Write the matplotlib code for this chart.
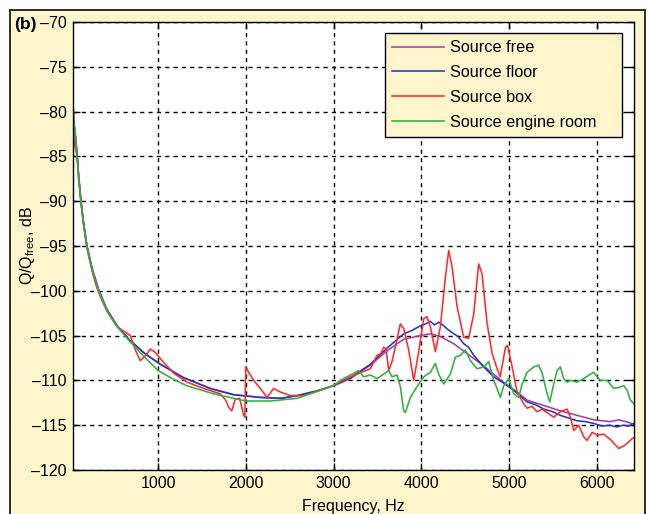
import numpy as np
import matplotlib
matplotlib.use("Agg")
import matplotlib.pyplot as plt
from matplotlib.patches import Rectangle

plt.rcParams['font.family'] = ['Liberation Sans', 'DejaVu Sans']

# --- donnees (Hz, dB) ---
f_free = [25, 32, 40, 57, 77, 95, 122, 152, 190, 248, 323, 418, 533, 665, 836, 1026,
          1292, 1596, 1862, 2166, 2400, 2585, 2800, 3000, 3192, 3420, 3610, 3800, 3990,
          4104, 4218, 4370, 4522, 4674, 4826, 4960, 5093, 5206, 5396, 5586, 5776, 5966,
          6150, 6250, 6330, 6425]
v_free = [-74.2, -79.5, -81.2, -82.6, -84.7, -87.2, -90.0, -92.5, -95.0, -97.5, -99.9,
          -102.1, -103.9, -105.4, -106.9, -108.2, -109.7, -110.9, -111.6, -111.9, -112.0,
          -111.7, -111.2, -110.6, -109.8, -108.3, -106.7, -105.4, -105.0, -104.8, -105.1,
          -105.9, -107.0, -108.1, -109.3, -110.4, -111.3, -112.2, -112.8, -113.4, -113.9,
          -114.4, -114.6, -114.4, -114.6, -114.9]

f_floor = [25, 38, 57, 77, 95, 122, 152, 190, 248, 323, 418, 533, 665, 836, 1026, 1292,
           1596, 1862, 2166, 2400, 2585, 2800, 3000, 3192, 3420, 3610, 3800, 3900, 3990,
           4050, 4100, 4150, 4200, 4256, 4300, 4370, 4420, 4484, 4540, 4598, 4712, 4826,
           4940, 5054, 5206, 5300, 5396, 5500, 5586, 5680, 5776, 5870, 5966, 6060, 6150,
           6230, 6300, 6360, 6425]
v_floor = [-79.0, -81.0, -82.6, -84.7, -87.2, -90.0, -92.5, -95.0, -97.5, -99.9, -102.1,
           -103.9, -105.4, -106.9, -108.2, -109.7, -110.9, -111.6, -111.9, -112.0, -111.7,
           -111.2, -110.6, -109.7, -108.2, -106.4, -104.8, -104.4, -103.9, -103.7, -103.4,
           -103.8, -103.5, -103.9, -104.3, -104.8, -105.1, -105.9, -106.3, -107.2, -108.5,
           -109.6, -110.3, -111.1, -112.4, -112.7, -113.2, -113.5, -113.9, -114.2, -114.5,
           -114.6, -114.8, -115.1, -115.0, -115.2, -115.0, -115.1, -114.8]

f_box = [25, 35, 50, 77, 95, 122, 152, 190, 248, 300, 340, 418, 533, 684, 741, 798,
         860, 912, 960, 1064, 1180, 1330, 1520, 1710, 1770, 1805, 1840, 1880, 1930, 1976,
         1990, 2000, 2033, 2090, 2166, 2242, 2318, 2394, 2508, 2660, 2850, 2964, 3192,
         3420, 3497, 3540, 3572, 3600, 3629, 3670, 3762, 3800, 3857, 3914, 3971, 4028,
         4066, 4104, 4161, 4218, 4275, 4313, 4351, 4409, 4484, 4541, 4598, 4655, 4693,
         4750, 4808, 4865, 4900, 4960, 4985, 5036, 5093, 5168, 5206, 5264, 5321, 5378,
         5435, 5510, 5586, 5663, 5700, 5738, 5795, 5852, 5890, 5948, 6005, 6080, 6156,
         6251, 6327, 6404, 6425]
v_box = [-80.5, -82.5, -83.8, -84.9, -87.4, -90.2, -92.7, -95.3, -97.8, -99.6, -100.6,
         -102.3, -104.0, -105.0, -106.6, -107.8, -107.2, -106.5, -106.8, -108.0, -109.2,
         -110.2, -110.9, -111.5, -112.2, -113.0, -113.4, -112.1, -112.0, -113.9, -114.1,
         -108.5, -109.1, -110.0, -110.9, -111.9, -110.9, -111.3, -111.7, -111.7, -111.1,
         -110.7, -109.6, -108.7, -107.2, -107.0, -106.3, -106.5, -108.9, -107.8, -103.7,
         -104.2, -106.6, -110.0, -106.8, -103.1, -102.9, -104.0, -106.8, -104.0, -98.5,
         -95.5, -97.3, -101.8, -105.2, -105.3, -102.6, -97.0, -98.1, -103.6, -107.0,
         -108.7, -109.6, -106.3, -106.1, -108.5, -111.3, -112.6, -113.1, -112.9, -113.5,
         -113.2, -113.6, -114.1, -113.5, -113.2, -114.1, -115.6, -115.0, -116.3, -116.7,
         -115.8, -116.1, -116.0, -116.6, -117.6, -117.2, -116.5, -116.4]

f_engine = [25, 30, 40, 57, 77, 95, 122, 152, 190, 248, 323, 418, 533, 665, 836, 1000,
            1180, 1330, 1634, 2000, 2280, 2585, 2850, 3000, 3078, 3192, 3287, 3344, 3420,
            3497, 3572, 3629, 3667, 3724, 3762, 3800, 3819, 3876, 3952, 4028, 4104, 4161,
            4199, 4256, 4332, 4389, 4446, 4503, 4560, 4636, 4712, 4769, 4826, 4864, 4902,
            4940, 4997, 5054, 5111, 5150, 5206, 5282, 5339, 5378, 5435, 5465, 5510, 5548,
            5586, 5624, 5663, 5700, 5776, 5852, 5928, 5966, 6042, 6118, 6194, 6251, 6308,
            6346, 6384, 6425]
v_engine = [-74.0, -78.5, -81.0, -82.6, -84.8, -87.3, -90.1, -92.6, -95.1, -97.6, -100.0,
            -102.2, -104.0, -105.5, -107.3, -108.9, -109.9, -110.6, -111.5, -112.3, -112.3,
            -112.0, -111.1, -110.6, -110.0, -109.4, -108.9, -109.6, -109.4, -109.8, -109.3,
            -108.9, -109.6, -109.4, -110.7, -113.4, -113.6, -111.9, -110.7, -109.6, -109.1,
            -108.1, -109.3, -110.4, -109.3, -107.4, -107.2, -106.6, -107.8, -108.7, -108.5,
            -107.9, -110.0, -110.9, -111.9, -110.6, -109.8, -111.5, -111.9, -110.4, -109.1,
            -108.5, -108.3, -109.2, -111.5, -112.4, -110.4, -108.9, -108.5, -109.8, -110.2,
            -110.0, -110.2, -109.8, -109.3, -109.1, -110.0, -110.0, -110.9, -110.8, -110.6,
            -111.1, -112.2, -112.6]

labels = ["Source free", "Source floor", "Source box", "Source engine room"]
couleurs = ["#A43FA8", "#2238C0", "#FF2B2B", "#2EB23E"]

x_ticks = [1000, 2000, 3000, 4000, 5000, 6000]
y_ticks = list(range(-120, -65, 5))

W, H = 650, 514
fig = plt.figure(figsize=(6.5, 5.14), dpi=100, facecolor="white")
fond = "#FDF6CC"
fig.add_artist(Rectangle((10 / W, -0.02), 635 / W, (504 / H) + 0.02,
                         transform=fig.transFigure, facecolor=fond,
                         edgecolor="#2a2a2a", linewidth=1.4, zorder=-10))

ax = fig.add_axes([72.5 / W, 1 - 470 / H, (634 - 72.5) / W, (470 - 22) / H])
ax.set_facecolor("white")

series = [(f_free, v_free), (f_floor, v_floor), (f_box, v_box), (f_engine, v_engine)]
for (f, v), lab, c in zip(series, labels, couleurs):
    ax.plot(f, v, color=c, linewidth=1.15, label=lab)

ax.set_xlim(25, 6425)
ax.set_ylim(-120, -70)
ax.set_xticks(x_ticks)
ax.set_yticks(y_ticks)
ax.set_yticklabels([str(t).replace("-", "\u2013") for t in y_ticks])
ax.tick_params(direction="in", length=5, top=True, right=True, labelsize=11.5, pad=4,
               width=1.0)
ax.grid(True, color="black", linestyle=(0, (3, 3)), linewidth=1.0)
for s in ax.spines.values():
    s.set_linewidth(1.0)

ax.set_xlabel("Frequency, Hz", fontsize=11.5, labelpad=6)
ax.set_ylabel(r"Q/Q$_{\mathregular{free}}$, dB", fontsize=11.5, labelpad=-4)

# legende : cadre fixe (385..622 px, 33..136 px), texte cale a gauche
leg = ax.legend(loc="upper left",
                bbox_to_anchor=(385 / W, 1 - 136 / H, 237 / W, 103 / H),
                bbox_transform=fig.transFigure, mode="expand", borderaxespad=0,
                fontsize=11.7, handlelength=3.2, labelspacing=0.6, borderpad=0.45,
                handletextpad=0.35, fancybox=False, facecolor=fond,
                edgecolor="black", framealpha=1)
leg.get_frame().set_linewidth(1.0)

fig.text(14 / W, 1 - 24 / H, "(b)", fontsize=12.5, fontweight="bold", va="center")

fig.savefig("out.png", dpi=100, facecolor=fig.get_facecolor())
